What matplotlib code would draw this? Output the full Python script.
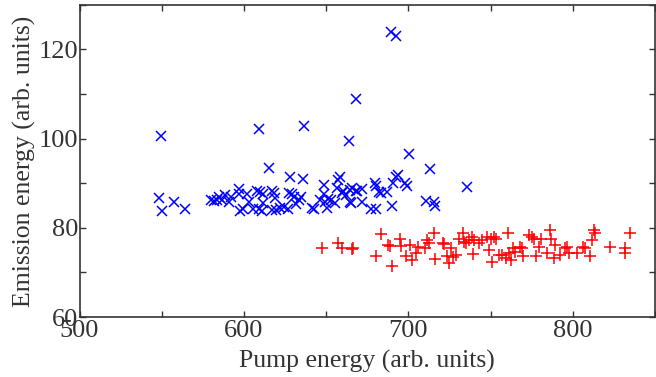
import numpy as np
import matplotlib
matplotlib.use('Agg')
import matplotlib.pyplot as plt

# Blue series (x markers): pump energy vs emission energy
blue_x = [549.7, 548.6, 550.3, 557.3, 564.4, 609.0, 615.0, 636.7, 627.8, 635.9,
          663.9, 668.0, 689.7, 692.7, 700.2, 713.0, 735.4, 710.8, 715.5, 716.2,
          690.2, 677.2, 680.6, 671.5, 664.5, 692.3, 693.7, 690.7, 697.7, 699.3,
          679.6, 680.6, 682.2, 683.6, 687.0, 664.5, 668.5, 671.5,
          579.9, 581.9, 583.9, 584.9, 586.9, 588.3, 591.0, 592.0, 597.0, 597.6,
          599.6, 597.0, 602.0, 603.0, 605.6, 607.7, 609.7, 611.5, 609.0, 610.7,
          611.7, 617.1, 618.1, 618.7, 617.1, 619.2, 622.2, 624.6, 626.6, 627.2,
          629.2, 630.7, 631.6, 633.3, 634.9, 641.3, 642.9, 646.4, 648.4, 648.8,
          649.4, 651.0, 650.4, 653.0, 655.4, 656.8, 657.4, 658.4, 659.4, 660.4,
          661.8, 664.9, 665.5, 668.1]
blue_y = [100.7, 86.8, 83.8, 85.9, 84.3, 102.2, 93.4, 102.8, 91.4, 91.0,
          99.4, 109.0, 124.0, 123.0, 96.6, 93.3, 89.1, 86.1, 85.9, 85.0,
          85.0, 84.3, 84.3, 85.8, 85.8, 91.5, 91.8, 90.0, 90.0, 89.3,
          90.0, 89.3, 88.0, 87.8, 88.0, 88.5, 88.3, 88.8,
          86.3, 86.1, 86.3, 87.0, 86.3, 87.4, 85.8, 87.0, 88.8, 83.8,
          84.3, 87.6, 87.6, 85.9, 84.3, 88.3, 88.0, 87.6, 84.3, 83.7,
          85.6, 88.3, 87.8, 86.7, 84.0, 84.0, 84.4, 84.6, 84.2, 87.9,
          87.6, 87.0, 85.4, 86.3, 86.9, 84.4, 84.3, 86.3, 87.6, 89.7,
          85.9, 86.4, 84.4, 86.3, 85.6, 88.9, 90.8, 91.3, 87.8, 88.2,
          87.4, 85.6, 88.9, 88.3]

# Red series (+ markers)
red_x = [647.3, 657.4, 659.4, 665.5, 666.5, 680.6, 683.2, 687.6, 688.7, 690.3,
         694.7, 695.3, 698.7, 700.8, 702.3, 704.8, 705.8, 710.2, 711.2, 712.8,
         715.4, 716.2, 720.9, 721.9, 723.3, 724.9, 725.9, 726.9, 728.9, 731.0,
         733.0, 733.6, 735.0, 737.0, 738.4, 739.6, 740.0, 743.1, 744.5, 748.1,
         749.1, 750.5, 752.1, 751.1, 753.1, 755.1, 757.1, 759.1, 760.6, 761.2,
         762.2, 763.6, 764.6, 767.6, 769.2, 769.7, 773.3, 775.3, 776.7, 777.7,
         779.3, 780.7, 784.3, 786.0, 786.8, 788.4, 789.4, 792.4, 795.4, 796.4,
         797.5, 802.5, 806.5, 807.5, 810.5, 811.5, 812.6, 813.5, 822.6, 831.7,
         831.7, 834.7]
red_y = [75.4, 76.6, 75.4, 75.3, 75.4, 73.8, 78.6, 76.2, 76.0, 71.5,
         77.5, 76.0, 73.8, 76.2, 72.8, 74.3, 75.8, 75.4, 77.3, 76.6,
         78.8, 73.0, 76.7, 76.3, 73.6, 72.1, 75.4, 73.4, 73.9, 77.5,
         78.8, 76.9, 76.6, 77.3, 78.0, 74.2, 77.3, 76.6, 77.3, 77.9,
         75.1, 77.5, 77.9, 72.4, 77.5, 73.9, 73.9, 73.2, 78.8, 74.3,
         72.8, 75.4, 74.7, 75.7, 75.4, 73.8, 78.4, 77.9, 77.5, 73.8,
         75.7, 77.5, 74.3, 79.6, 77.5, 73.2, 76.2, 73.9, 75.4, 75.8,
         74.3, 74.3, 75.8, 75.4, 73.6, 77.3, 79.6, 78.8, 75.7, 75.4,
         74.3, 78.8]

x_ticks = np.arange(500, 851, 50)
x_labels = ['500', '', '600', '', '700', '', '800', '']
y_ticks = np.arange(60, 131, 10)
y_labels = ['60', '', '80', '', '100', '', '120', '']

plt.rcParams['font.family'] = ['Liberation Serif', 'DejaVu Serif']

fig = plt.figure(figsize=(6.56, 3.77), dpi=100)
ax = fig.add_axes([0.1212, 0.159, 0.8773, 0.828])

ax.plot(blue_x, blue_y, linestyle='none', marker='x', color='#0000ff',
        markersize=7, markeredgewidth=1.1)
ax.plot(red_x, red_y, linestyle='none', marker='+', color='#ff0000',
        markersize=9, markeredgewidth=1.1)

ax.set_xlim(500, 850)
ax.set_ylim(60, 130)
ax.set_xticks(x_ticks)
ax.set_xticklabels(x_labels)
ax.set_yticks(y_ticks)
ax.set_yticklabels(y_labels)

ax.tick_params(direction='in', top=True, right=True, length=4, width=1,
               color='#333333', labelcolor='#333333', labelsize=19, pad=1)
ax.tick_params(axis='x', pad=2)
for spine in ax.spines.values():
    spine.set_edgecolor('#333333')
    spine.set_linewidth(1.2)

ax.set_xlabel('Pump energy (arb. units)', fontsize=18.5, color='#333333', labelpad=6)
ax.set_ylabel('Emission energy (arb. units)', fontsize=18.5, color='#333333', labelpad=2)

plt.savefig('out.png', dpi=100)
plt.close()
